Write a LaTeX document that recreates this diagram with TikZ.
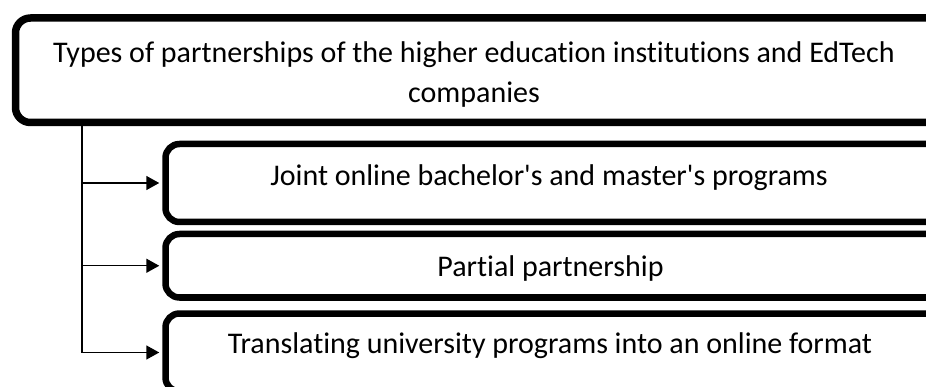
\documentclass[tikz,border=0pt]{standalone}
\usepackage{fontspec}
\setmainfont{Carlito}[Ligatures={TeXOff,CommonOff}]
\usetikzlibrary{arrows.meta}

\tikzset{
  mainbox/.style={draw, line width=7.5pt, rounded corners=15pt, minimum width=1000pt, minimum height=104.5pt, inner sep=0pt},
  typebox/.style={draw, line width=6.5pt, rounded corners=14pt, minimum width=900pt, inner sep=0pt},
  boxtext/.style={font=\fontsize{30}{40}\selectfont, align=center, anchor=base, inner sep=0pt},
  link/.style={line width=1.5pt, -{Triangle[length=13pt,width=14pt]}, shorten >=3pt},
}

\begin{document}
\begin{tikzpicture}[x=1pt,y=1pt]
    \useasboundingbox (0,0) rectangle (926,-387);
    \clip (0,0) rectangle (926,-387);

    % Main box
    \node[mainbox] (types) at (515.5,-70.25) {};
    \node[boxtext] (types-text) at (474,-103) {Types of partnerships of the higher education institutions and EdTech\\companies};

    % Partnership types
    \node[typebox, minimum height=78pt] (joint) at (615.5,-183) {};
    \node[boxtext] (joint-text) at (549,-186) {Joint online bachelor's and master's programs};

    \node[typebox, minimum height=63.5pt] (partial) at (615.5,-265.75) {};
    \node[boxtext] (partial-text) at (550.5,-276.7) {Partial partnership};

    \node[typebox, minimum height=78pt] (online) at (615.5,-352.5) {};
    \node[boxtext] (online-text) at (550,-353) {Translating university programs into an online format};

    % Connectors
    \coordinate (trunk) at ([xshift=70pt]types.south west);
    \foreach \b in {joint,partial,online}
        \draw[link] (trunk) |- (\b.west);
\end{tikzpicture}
\end{document}
